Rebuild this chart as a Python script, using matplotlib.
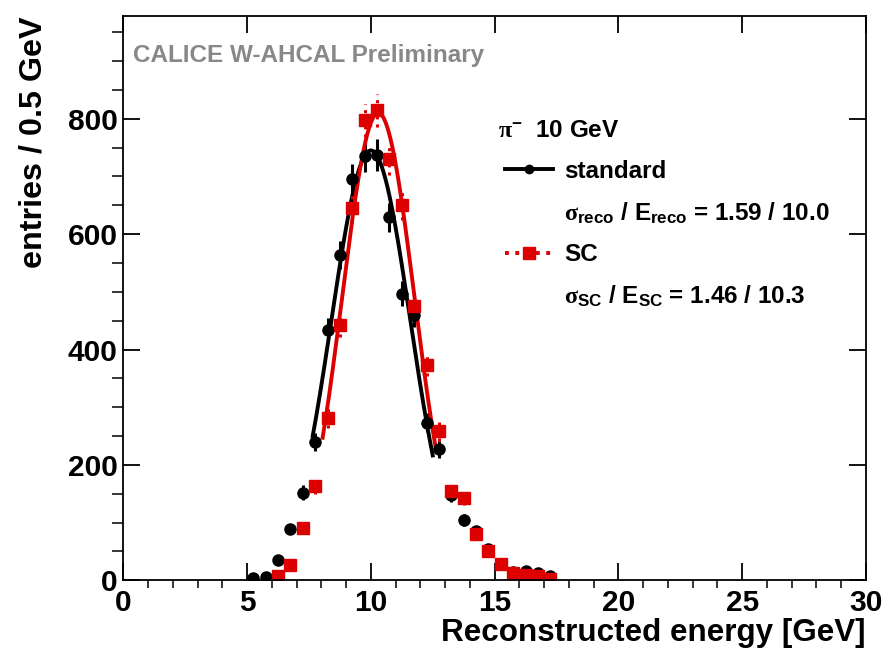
import numpy as np
import matplotlib
matplotlib.use('Agg')
import matplotlib.pyplot as plt
from matplotlib.lines import Line2D

plt.rcParams['font.family'] = 'Liberation Sans'
plt.rcParams['font.weight'] = 'bold'
plt.rcParams['axes.labelweight'] = 'bold'
plt.rcParams['mathtext.fontset'] = 'custom'
plt.rcParams['mathtext.rm'] = 'Liberation Serif'
plt.rcParams['mathtext.it'] = 'Liberation Serif:italic'
plt.rcParams['mathtext.bf'] = 'Liberation Serif:bold'

# standard reconstruction, 0.5 GeV bins
energy_std = [5.25, 5.75, 6.25, 6.75, 7.25, 7.75, 8.25, 8.75, 9.25, 9.75, 10.25, 10.75, 11.25,
              11.75, 12.25, 12.75, 13.25, 13.75, 14.25, 14.75, 15.25, 15.75, 16.25, 16.75, 17.25]
entries_std = [4, 5, 36, 89, 152, 240, 433, 564, 696, 735, 737, 629, 497,
               460, 273, 227, 147, 104, 85, 54, 29, 14, 16, 12, 8]

# software compensation
energy_sc = [6.25, 6.75, 7.25, 7.75, 8.25, 8.75, 9.25, 9.75, 10.25, 10.75, 11.25, 11.75,
             12.25, 12.75, 13.25, 13.75, 14.25, 14.75, 15.25, 15.75, 16.25, 16.75, 17.25]
entries_sc = [8, 26, 91, 163, 281, 443, 645, 797, 815, 730, 650, 475,
              374, 258, 154, 142, 80, 50, 28, 13, 10, 7, 2]

# gaussian fit results
std_amp, std_mean, std_sigma = 745, 10.0, 1.59
std_range = (7.65, 12.5)
sc_amp, sc_mean, sc_sigma = 810, 10.3, 1.46
sc_range = (8.05, 12.6)


def gaus(x, a, m, s):
    return a * np.exp(-0.5 * ((x - m) / s) ** 2)


fig = plt.figure(figsize=(8.84, 6.51), dpi=100)
ax = fig.add_axes([0.1395, 0.1086, 0.8401, 0.8668])

err_std = np.sqrt(entries_std)
err_sc = np.sqrt(entries_sc)

ax.errorbar(energy_std, entries_std, yerr=err_std, fmt='o', color='black',
            ms=8, elinewidth=2.2, capsize=0)
xs = np.linspace(std_range[0], std_range[1], 200)
ax.plot(xs, gaus(xs, std_amp, std_mean, std_sigma), color='black', lw=2.8)

eb = ax.errorbar(energy_sc, entries_sc, yerr=err_sc, fmt='s', color='#dd0000',
                 ms=8, elinewidth=2.2, capsize=0)
for b in eb[2]:
    b.set_linestyle(':')
xs = np.linspace(sc_range[0], sc_range[1], 200)
ax.plot(xs, gaus(xs, sc_amp, sc_mean, sc_sigma), color='#dd0000', lw=2.8)

ax.set_xlim(0, 30)
ax.set_ylim(0, 978)
ax.set_xticks([0, 5, 10, 15, 20, 25, 30])
ax.set_xticks(np.arange(0, 31, 1), minor=True)
ax.set_yticks([0, 200, 400, 600, 800])
ax.set_yticks(np.arange(0, 951, 50), minor=True)
ax.tick_params(direction='in', top=True, right=True, labelsize=21.5, width=1.3)
ax.tick_params(axis='x', which='major', length=12, pad=6)
ax.tick_params(axis='x', which='minor', length=6, width=1.1)
ax.tick_params(axis='y', which='major', length=12, pad=4)
ax.tick_params(axis='y', which='minor', length=8, width=1.1)
for sp in ax.spines.values():
    sp.set_linewidth(1.3)

ax.set_xlabel('Reconstructed energy [GeV]', fontsize=22.6, loc='right')
ax.set_ylabel('entries / 0.5 GeV', fontsize=23.2, loc='top')
ax.xaxis.set_label_coords(1.0, -0.066)
ax.yaxis.set_label_coords(-0.101, 1.0)

ax.text(0.013, 0.93, 'CALICE W-AHCAL Preliminary', transform=ax.transAxes,
        color='#888888', fontsize=17.5, va='center', ha='left')

ax.text(0.504, 0.797, r'$\mathrm{\pi}^{\mathregular{-}}$  10 GeV', transform=ax.transAxes,
        fontsize=17.5, va='center', ha='left')

handles = [Line2D([], [], color='black', lw=2.8, marker='o', ms=6),
           Line2D([], [], color='none'),
           Line2D([], [], color='#dd0000', lw=2.8, ls=':', marker='s', ms=8),
           Line2D([], [], color='none')]
labels = ['standard',
          r'$\mathrm{\sigma}_{\mathregular{reco}}$ / E$_{\mathregular{reco}}$ = 1.59 / 10.0',
          'SC',
          r'$\mathrm{\sigma}_{\mathregular{SC}}$ / E$_{\mathregular{SC}}$ = 1.46 / 10.3']
ax.legend(handles, labels, loc='upper left', bbox_to_anchor=(0.514, 0.745),
          frameon=False, fontsize=17.5, handlelength=1.98, handletextpad=0.45,
          borderpad=0, borderaxespad=0, labelspacing=0.72)

fig.savefig('out.png', dpi=100)
